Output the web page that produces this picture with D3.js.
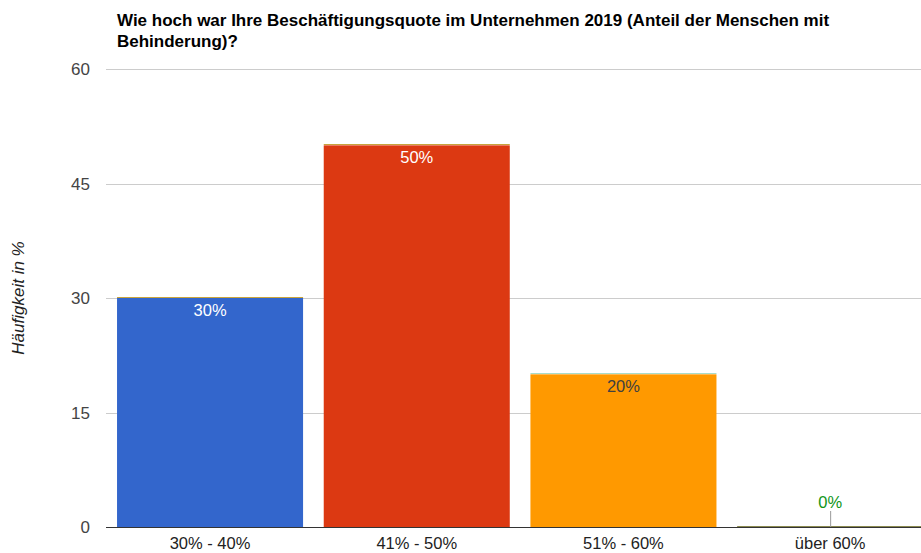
<!DOCTYPE html>
<html><head><meta charset="utf-8">
<script src="https://cdn.jsdelivr.net/npm/d3@7"></script>
<style>body{margin:0;background:#fff}svg{display:block}</style>
</head><body>
<svg id="c" width="921" height="553"></svg>
<script>
const categories = ["30% - 40%", "41% - 50%", "51% - 60%", "über 60%"];
const values = [30, 50, 20, 0];
const labels = ["30%", "50%", "20%", "0%"];
const yTicks = [0, 15, 30, 45, 60];
const barColors = ["#3366cc", "#dc3912", "#ff9900", "#109618"];
const topColors = ["#c8a43c", "#c8a43c", "#a8dcc8", "#8a8a50"];
const labelColors = ["#ffffff", "#ffffff", "#404040", "#109618"];
const title = ["Wie hoch war Ihre Beschäftigungsquote im Unternehmen 2019 (Anteil der Menschen mit", "Behinderung)?"];
const yTitle = "Häufigkeit in %";

const svg = d3.select("#c");
const font = "'Liberation Sans', Arial, sans-serif";
const y = d3.scaleLinear().domain([0, 60]).range([527, 69]);
const x = d3.scaleBand().domain(categories).range([106.7, 933.5]).paddingInner(0.1).paddingOuter(0.05);

// title
svg.append("text").attr("font-family", font).attr("font-weight", "bold").attr("font-size", 17).attr("fill", "#000")
  .attr("textLength", null)
  .selectAll("tspan").data(title).join("tspan").attr("x", 117).attr("y", (d, i) => 26 + i * 21).text(d => d);

// gridlines
svg.append("g").selectAll("line").data(yTicks.filter(t => t > 0)).join("line")
  .attr("x1", 106).attr("x2", 921).attr("y1", d => Math.round(y(d)) + 0.5).attr("y2", d => Math.round(y(d)) + 0.5)
  .attr("stroke", "#cccccc").attr("stroke-width", 1);

// y tick labels
svg.append("g").selectAll("text").data(yTicks).join("text")
  .attr("x", 90).attr("y", d => y(d) + 6).attr("text-anchor", "end")
  .attr("font-family", font).attr("font-size", 17).attr("fill", "#444").text(d => d);

// y title
svg.append("text").attr("transform", "translate(24,298) rotate(-90)").attr("text-anchor", "middle")
  .attr("font-family", font).attr("font-style", "italic").attr("font-size", 17).attr("fill", "#222").text(yTitle);

// bars
svg.append("g").selectAll("rect").data(values).join("rect")
  .attr("x", (d, i) => x(categories[i])).attr("width", x.bandwidth())
  .attr("y", d => y(d)).attr("height", d => y(0) - y(d)).attr("fill", (d, i) => barColors[i]);

// baseline
svg.append("line").attr("x1", 106).attr("x2", 921).attr("y1", 527.5).attr("y2", 527.5).attr("stroke", "#333").attr("stroke-width", 1);

// top lines
svg.append("g").selectAll("line").data(values).join("line")
  .attr("x1", (d, i) => x(categories[i])).attr("x2", (d, i) => Math.min(921, x(categories[i]) + x.bandwidth()))
  .attr("y1", d => Math.round(y(d)) - 0.5).attr("y2", d => Math.round(y(d)) - 0.5)
  .attr("stroke", (d, i) => topColors[i]).attr("stroke-width", 1.2);

// value labels
const vl = svg.append("g");
values.forEach((v, i) => {
  const cx = x(categories[i]) + x.bandwidth() / 2;
  if (v > 2) {
    vl.append("text").attr("x", cx).attr("y", y(v) + 18).attr("text-anchor", "middle")
      .attr("font-family", font).attr("font-size", 16.5).attr("fill", labelColors[i]).text(labels[i]);
  } else {
    vl.append("line").attr("x1", cx + 0.5).attr("x2", cx + 0.5).attr("y1", y(v) - 16).attr("y2", y(v))
      .attr("stroke", "#999").attr("stroke-width", 1);
    vl.append("text").attr("x", cx).attr("y", y(v) - 19).attr("text-anchor", "middle")
      .attr("font-family", font).attr("font-size", 16.5).attr("fill", labelColors[i]).text(labels[i]);
  }
});

// x labels
svg.append("g").selectAll("text").data(categories).join("text")
  .attr("x", d => x(d) + x.bandwidth() / 2).attr("y", 549).attr("text-anchor", "middle")
  .attr("font-family", font).attr("font-size", 16.5).attr("fill", "#222").text(d => d);
</script>
</body></html>
